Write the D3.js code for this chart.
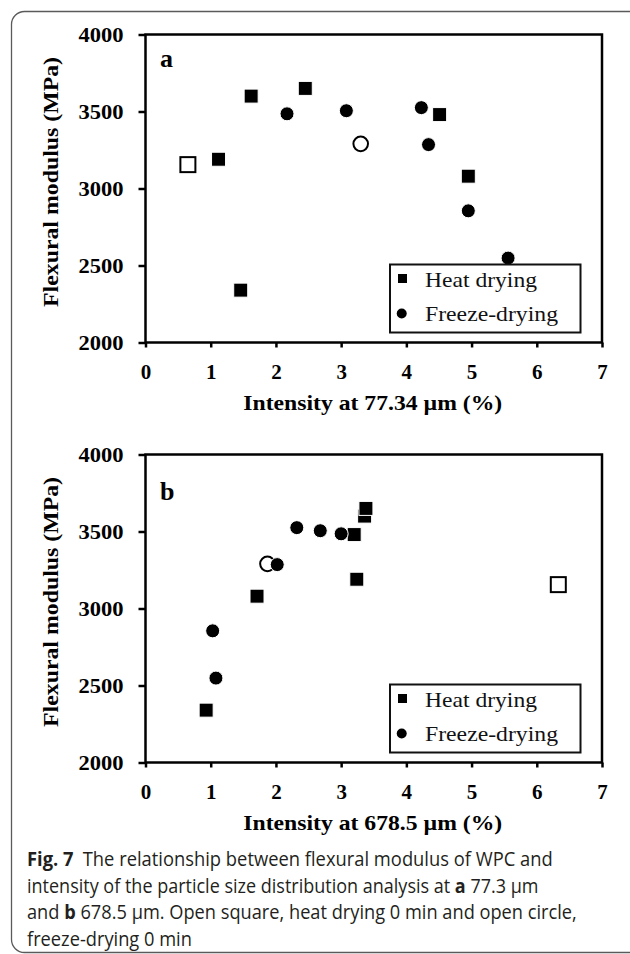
<!DOCTYPE html>
<html>
<head>
<meta charset="utf-8">
<script src="https://cdn.jsdelivr.net/npm/d3@7/dist/d3.min.js"></script>
<style>
  html, body { margin: 0; padding: 0; background: #fff; }
  svg { display: block; }
</style>
</head>
<body>
<svg id="fig" width="630" height="954"></svg>
<script>
// shared samples: same modulus, two intensity readings (a: 77.34 µm, b: 678.5 µm)
const heatModulus = [3190, 2340, 3600, 3650, 3480, 3080];
const heatIntensityA = [1.12, 1.46, 1.62, 2.45, 4.51, 4.95];
const heatIntensityB = [3.24, 0.93, 3.36, 3.38, 3.20, 1.71];

const freezeModulus = [3485, 3505, 3525, 3285, 2855, 2548];
const freezeIntensityA = [2.17, 3.08, 4.23, 4.34, 4.95, 5.56];
const freezeIntensityB = [3.00, 2.68, 2.32, 2.02, 1.03, 1.08];

// 0 min controls (open markers)
const heat0Modulus = [3155];
const heat0IntensityA = [0.65];
const heat0IntensityB = [6.33];
const freeze0Modulus = [3290];
const freeze0IntensityA = [3.30];
const freeze0IntensityB = [1.87];

const xTicks = [0, 1, 2, 3, 4, 5, 6, 7];
const yTicks = [2000, 2500, 3000, 3500, 4000];
const xDomain = [0, 7];
const yDomain = [2000, 4000];

const panelLetters = ["a", "b"];
const xTitles = ["Intensity at 77.34 \u00b5m (%)", "Intensity at 678.5 \u00b5m (%)"];
const yTitle = "Flexural modulus (MPa)";
const legendLabels = ["Heat drying", "Freeze-drying"];

const captionLines = [
  [["Fig. 7", true], ["\u2002The relationship between flexural modulus of WPC and", false]],
  [["intensity of the particle size distribution analysis at ", false], ["a", true], [" 77.3 \u00b5m", false]],
  [["and ", false], ["b", true], [" 678.5 \u00b5m. Open square, heat drying 0 min and open circle,", false]],
  [["freeze-drying 0 min", false]]
];

const SERIF = "'Liberation Serif', 'Times New Roman', serif";
const SANS = "'Open Sans', 'Noto Sans', sans-serif";

const svg = d3.select("#fig");

// card outline
svg.append("rect")
    .attr("x", 11.5).attr("y", 11.5)
    .attr("width", 700).attr("height", 941)
    .attr("rx", 13)
    .attr("fill", "none")
    .attr("stroke", "#5a5a5a")
    .attr("stroke-width", 1.3);

const panels = [
  {
    top: 34.5, bottom: 342.5, letterY: 67,
    heat: heatIntensityA, freeze: freezeIntensityA,
    heat0: heat0IntensityA, freeze0: freeze0IntensityA
  },
  {
    top: 454.5, bottom: 762.5, letterY: 500,
    heat: heatIntensityB, freeze: freezeIntensityB,
    heat0: heat0IntensityB, freeze0: freeze0IntensityB
  }
];

const left = 145.5, right = 602;

panels.forEach((p, i) => {
    const x = d3.scaleLinear().domain(xDomain).range([left, right]);
    const y = d3.scaleLinear().domain(yDomain).range([p.bottom, p.top]);
    const g = svg.append("g").attr("class", "panel-" + panelLetters[i]);

    // x axis
    const xAxis = d3.axisBottom(x).tickValues(xTicks).tickSize(5).tickSizeOuter(0).tickFormat(d3.format("d"));
    const xg = g.append("g").attr("transform", `translate(0,${p.bottom})`).call(xAxis);
    xg.select(".domain").remove();
    xg.selectAll(".tick line").attr("stroke", "#000").attr("stroke-width", 2.5);
    xg.selectAll(".tick text")
        .attr("y", 36.5).attr("dy", 0)
        .attr("fill", "#000")
        .style("font-family", SERIF)
        .style("font-weight", "bold")
        .style("font-size", "21px");

    // y axis
    const yAxis = d3.axisLeft(y).tickValues(yTicks).tickSize(7).tickSizeOuter(0).tickFormat(d3.format("d"));
    const yg = g.append("g").attr("transform", `translate(${left},0)`).call(yAxis);
    yg.select(".domain").remove();
    yg.selectAll(".tick line").attr("stroke", "#000").attr("stroke-width", 2.5);
    yg.selectAll(".tick text")
        .attr("x", -22).attr("dy", "0.35em")
        .attr("fill", "#000")
        .attr("textLength", 45)
        .attr("lengthAdjust", "spacingAndGlyphs")
        .style("font-family", SERIF)
        .style("font-weight", "bold")
        .style("font-size", "21px");

    // frame
    g.append("rect")
        .attr("x", left).attr("y", p.top)
        .attr("width", right - left).attr("height", p.bottom - p.top)
        .attr("fill", "none")
        .attr("stroke", "#000")
        .attr("stroke-width", 2.5);

    // axis titles
    g.append("text")
        .attr("x", (left + right) / 2 - 1)
        .attr("y", p.bottom + 67.5)
        .attr("text-anchor", "middle")
        .attr("textLength", 259)
        .attr("lengthAdjust", "spacingAndGlyphs")
        .style("font-family", SERIF)
        .style("font-weight", "bold")
        .style("font-size", "22px")
        .text(xTitles[i]);

    g.append("text")
        .attr("transform", `translate(58,${(p.top + p.bottom) / 2 - 6.5}) rotate(-90)`)
        .attr("text-anchor", "middle")
        .attr("textLength", 250)
        .attr("lengthAdjust", "spacingAndGlyphs")
        .style("font-family", SERIF)
        .style("font-weight", "bold")
        .style("font-size", "21px")
        .text(yTitle);

    // panel letter
    g.append("text")
        .attr("x", 160).attr("y", p.letterY)
        .style("font-family", SERIF)
        .style("font-weight", "bold")
        .style("font-size", "26px")
        .text(panelLetters[i]);

    // open markers (0 min)
    g.selectAll(".open-circle")
        .data(d3.zip(p.freeze0, freeze0Modulus))
        .join("circle")
        .attr("class", "open-circle")
        .attr("cx", d => x(d[0])).attr("cy", d => y(d[1]))
        .attr("r", 7.3)
        .attr("fill", "#fff").attr("stroke", "#000").attr("stroke-width", 2);

    g.selectAll(".open-square")
        .data(d3.zip(p.heat0, heat0Modulus))
        .join("rect")
        .attr("class", "open-square")
        .attr("x", d => x(d[0]) - 7.5).attr("y", d => y(d[1]) - 7.5)
        .attr("width", 15).attr("height", 15)
        .attr("fill", "#fff").attr("stroke", "#000").attr("stroke-width", 2);

    // heat drying
    g.selectAll(".heat")
        .data(d3.zip(p.heat, heatModulus))
        .join("rect")
        .attr("class", "heat")
        .attr("x", d => x(d[0]) - 7).attr("y", d => y(d[1]) - 7)
        .attr("width", 14).attr("height", 14)
        .attr("fill", "#000").attr("stroke", "#fff").attr("stroke-width", 1);

    // freeze drying
    g.selectAll(".freeze")
        .data(d3.zip(p.freeze, freezeModulus))
        .join("circle")
        .attr("class", "freeze")
        .attr("cx", d => x(d[0])).attr("cy", d => y(d[1]))
        .attr("r", 7)
        .attr("fill", "#000").attr("stroke", "#fff").attr("stroke-width", 1);

    // legend
    const lg = g.append("g").attr("transform", `translate(390,${y(2500) - 1})`);
    lg.append("rect")
        .attr("width", 190.5).attr("height", 68)
        .attr("fill", "#fff")
        .attr("stroke", "#111")
        .attr("stroke-width", 2);
    lg.append("rect")
        .attr("x", 8).attr("y", 9.5).attr("width", 9).attr("height", 9)
        .attr("fill", "#000");
    lg.append("circle")
        .attr("cx", 11.7).attr("cy", 49).attr("r", 5)
        .attr("fill", "#000");
    lg.selectAll(".legend-label")
        .data(legendLabels)
        .join("text")
        .attr("class", "legend-label")
        .attr("x", 35)
        .attr("y", (d, j) => 22.5 + j * 33.5)
        .attr("textLength", (d, j) => j === 0 ? 112 : 133)
        .attr("lengthAdjust", "spacingAndGlyphs")
        .attr("fill", "#111")
        .style("font-family", SERIF)
        .style("font-size", "21px")
        .text(d => d);
});

// caption: natural text squeezed horizontally to the measured line widths
const capEnds = [553, 539, 577, 192];
const capBase = [866, 892.5, 919, 945.5];
captionLines.forEach((line, i) => {
    const cg = svg.append("g");
    const t = cg.append("text")
        .attr("fill", "#231f20")
        .style("font-family", SANS)
        .style("font-size", "20px");
    line.forEach(([s, bold]) => {
        t.append("tspan")
            .style("font-weight", bold ? "bold" : "normal")
            .text(s);
    });
    const w = t.node().getComputedTextLength();
    const k = (capEnds[i] - 27) / w;
    cg.attr("transform", `translate(27,${capBase[i]}) scale(${k},1)`);
});
</script>
</body>
</html>
